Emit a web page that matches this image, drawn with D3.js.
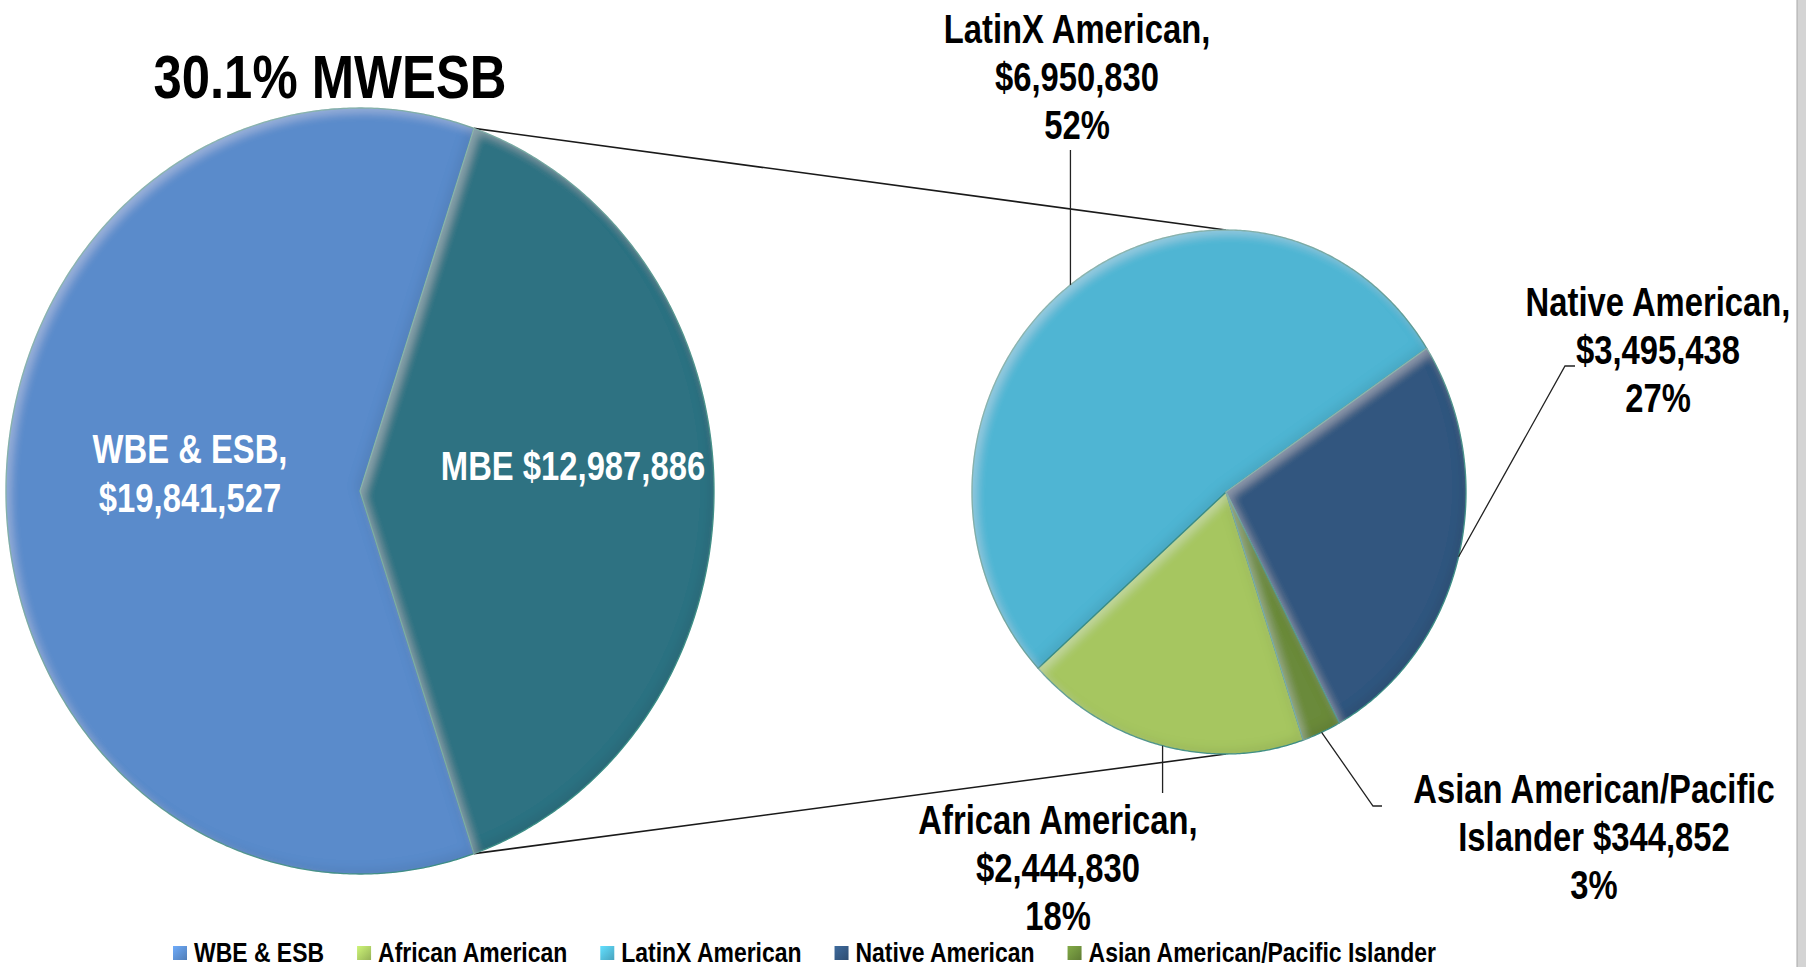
<!DOCTYPE html>
<html>
<head>
<meta charset="utf-8">
<script src="https://cdn.jsdelivr.net/npm/d3@7"></script>
<style>
  html, body { margin: 0; padding: 0; background: #ffffff; }
  svg { display: block; }
</style>
</head>
<body>
<svg id="chart" width="1806" height="967"></svg>
<script>
// ---------------- DATA ----------------
const titleText = "30.1% MWESB";
const primaryCategories = ["WBE & ESB", "MBE"];
const primaryValues = [19841527, 12987886];
const secondaryCategories = ["African American", "LatinX American", "Native American", "Asian American/Pacific Islander"];
const secondaryValues = [2444830, 6950830, 3495438, 344852];
const secondaryPercentLabels = ["18%", "52%", "27%", "3%"];
const legendCategories = ["WBE & ESB", "African American", "LatinX American", "Native American", "Asian American/Pacific Islander"];

// ---------------- STYLE / LAYOUT ----------------
const W = 1806, H = 967;
const FONT = "'Liberation Sans', Arial, sans-serif";
const NARROW = 0.82; // horizontal compression -> narrow bold face
const colorScale = d3.scaleOrdinal()
  .domain(["WBE & ESB", "MBE", "African American", "LatinX American", "Native American", "Asian American/Pacific Islander"])
  .range(["#5a8bcb", "#2e7282", "#a6c661", "#50b5d3", "#33567f", "#6a8a3a"]);

// pies drawn in a slightly perspective-distorted ellipse (different left/right radii)
const primaryGeom = { cx: 360, cy: 491, rxL: 354, rxR: 354, ry: 383 };
const secondaryGeom = { cx: 1226, cy: 492, rxL: 254, rxR: 240, ry: 262 };
const lineGap = 48;

const svg = d3.select("#chart");
const defs = svg.append("defs");

// bevel-like filter (light rim top-left, dark rim bottom-right)
const f = defs.append("filter").attr("id", "bevel").attr("x", "-5%").attr("y", "-5%").attr("width", "110%").attr("height", "110%");
f.append("feGaussianBlur").attr("in", "SourceAlpha").attr("stdDeviation", 5).attr("result", "blur");
f.append("feOffset").attr("in", "blur").attr("dx", 5).attr("dy", 5).attr("result", "offA");
f.append("feComposite").attr("in", "SourceAlpha").attr("in2", "offA").attr("operator", "out").attr("result", "rimA");
f.append("feFlood").attr("flood-color", "#ffffff").attr("flood-opacity", 0.25).attr("result", "white");
f.append("feComposite").attr("in", "white").attr("in2", "rimA").attr("operator", "in").attr("result", "hl");
f.append("feOffset").attr("in", "blur").attr("dx", -5).attr("dy", -5).attr("result", "offB");
f.append("feComposite").attr("in", "SourceAlpha").attr("in2", "offB").attr("operator", "out").attr("result", "rimB");
f.append("feFlood").attr("flood-color", "#000000").attr("flood-opacity", 0.15).attr("result", "black");
f.append("feComposite").attr("in", "black").attr("in2", "rimB").attr("operator", "in").attr("result", "sh");
const fm = f.append("feMerge");
fm.append("feMergeNode").attr("in", "SourceGraphic");
fm.append("feMergeNode").attr("in", "hl");
fm.append("feMergeNode").attr("in", "sh");

// ---------------- PIES ----------------
const primaryTotal = d3.sum(primaryValues);
const startAngle = Math.PI / 2 + Math.PI * (primaryValues[1] / primaryTotal);
const pieLayout = d3.pie().sort(null).value(d => d)
  .startAngle(startAngle).endAngle(startAngle + 2 * Math.PI);

function ellipsePoint(g, a) {
  const s = Math.sin(a);
  return [g.cx + (s < 0 ? g.rxL : g.rxR) * s, g.cy - g.ry * Math.cos(a)];
}

const slicePath = d3.line();
function sliceD(g, d) {
  const n = Math.max(2, Math.ceil((d.endAngle - d.startAngle) / (Math.PI / 360)));
  const pts = [[g.cx, g.cy]];
  for (let k = 0; k <= n; k++) {
    pts.push(ellipsePoint(g, d.startAngle + (d.endAngle - d.startAngle) * k / n));
  }
  return slicePath(pts) + "Z";
}

function drawPie(values, cats, g) {
  const arcs = pieLayout(values);
  const grp = svg.append("g");
  grp.selectAll("path").data(arcs).join("path")
    .attr("d", d => sliceD(g, d))
    .attr("fill", (d, i) => colorScale(cats[i]))
    .attr("stroke", "#3b958c")
    .attr("stroke-width", 1.3)
    .attr("stroke-linejoin", "round")
    .attr("filter", "url(#bevel)");
  return arcs;
}

// connector lines (under pies)
const connG = svg.append("g");
const mbeArc = pieLayout(primaryValues)[1];
const pTop = ellipsePoint(primaryGeom, mbeArc.startAngle);
const pBot = ellipsePoint(primaryGeom, mbeArc.endAngle);
const sTop = ellipsePoint(secondaryGeom, 0);
const sBot = ellipsePoint(secondaryGeom, Math.PI);
[[pTop, sTop], [pBot, sBot]].forEach(([a, b]) => {
  connG.append("line").attr("x1", a[0]).attr("y1", a[1]).attr("x2", b[0]).attr("y2", b[1])
    .attr("stroke", "#1a1a1a").attr("stroke-width", 1.6);
});

const pArcs = drawPie(primaryValues, primaryCategories, primaryGeom);
const sArcs = drawPie(secondaryValues, secondaryCategories, secondaryGeom);

// ---------------- TEXT ----------------
const money = d3.format("$,");

function narrowText(x, y, lines, opts) {
  const g = svg.append("g").attr("transform", `translate(${x},${y}) scale(${NARROW},1)`);
  const t = g.append("text")
    .attr("x", 0).attr("y", 0)
    .attr("text-anchor", opts.anchor || "middle")
    .attr("font-family", FONT)
    .attr("font-weight", "bold")
    .attr("font-size", opts.size)
    .attr("fill", opts.fill);
  lines.forEach((ln, i) => {
    t.append("tspan").attr("x", 0).attr("dy", i === 0 ? 0 : opts.gap).text(ln);
  });
  return t;
}

// title
narrowText(330, 98, [titleText], { size: 62, fill: "#000", gap: 0 });

// primary labels
narrowText(190, 463, [primaryCategories[0] + ",", money(primaryValues[0])], { size: 40, fill: "#ffffff", gap: 49 });
narrowText(573, 480, [primaryCategories[1] + " " + money(primaryValues[1])], { size: 40, fill: "#ffffff", gap: 49 });

// secondary labels
const secLabelLayout = {
  "African American": { x: 1058, y: 834, lines: (v, p) => ["African American,", money(v), p], leader: e => [e, [e[0], 793]] },
  "LatinX American": { x: 1077, y: 43, lines: (v, p) => ["LatinX American,", money(v), p], leader: e => [e, [e[0], 150]] },
  "Native American": { x: 1658, y: 316, lines: (v, p) => ["Native American,", money(v), p], leader: e => [e, [1565, 366], [1575, 366]] },
  "Asian American/Pacific Islander": { x: 1594, y: 803, lines: (v, p) => ["Asian American/Pacific", "Islander " + money(v), p], leader: e => [e, [1373, 806], [1382, 806]] }
};

const leaderLine = d3.line();
sArcs.forEach((a, i) => {
  const cat = secondaryCategories[i];
  const L = secLabelLayout[cat];
  const mid = (a.startAngle + a.endAngle) / 2;
  const e = ellipsePoint(secondaryGeom, mid);
  svg.append("path").attr("d", leaderLine(L.leader(e)))
    .attr("fill", "none").attr("stroke", "#222").attr("stroke-width", 1.3);
  narrowText(L.x, L.y, L.lines(secondaryValues[i], secondaryPercentLabels[i]), { size: 40, fill: "#000", gap: lineGap });
});

// ---------------- LEGEND ----------------
let lx = 173;
legendCategories.forEach((c, k) => {
  const col = d3.color(colorScale(c));
  const gid = "lg" + k;
  const lg = defs.append("linearGradient").attr("id", gid).attr("x1", 0).attr("y1", 0).attr("x2", 1).attr("y2", 1);
  lg.append("stop").attr("offset", 0).attr("stop-color", col.brighter(0.6));
  lg.append("stop").attr("offset", 1).attr("stop-color", col.darker(0.3));
  svg.append("rect").attr("x", lx).attr("y", 946).attr("width", 14).attr("height", 14)
    .attr("fill", `url(#${gid})`);
  const t = narrowText(lx + 21, 962, [c], { size: 28, fill: "#000", gap: 0, anchor: "start" });
  lx = lx + 21 + t.node().getComputedTextLength() * NARROW + 33;
});

// right-edge frame strip
svg.append("rect").attr("x", 1797).attr("y", 0).attr("width", 9).attr("height", H).attr("fill", "#d4d4d4");
svg.append("line").attr("x1", 1797).attr("y1", 0).attr("x2", 1797).attr("y2", H).attr("stroke", "#a8a8a8").attr("stroke-width", 1);
</script>
</body>
</html>
